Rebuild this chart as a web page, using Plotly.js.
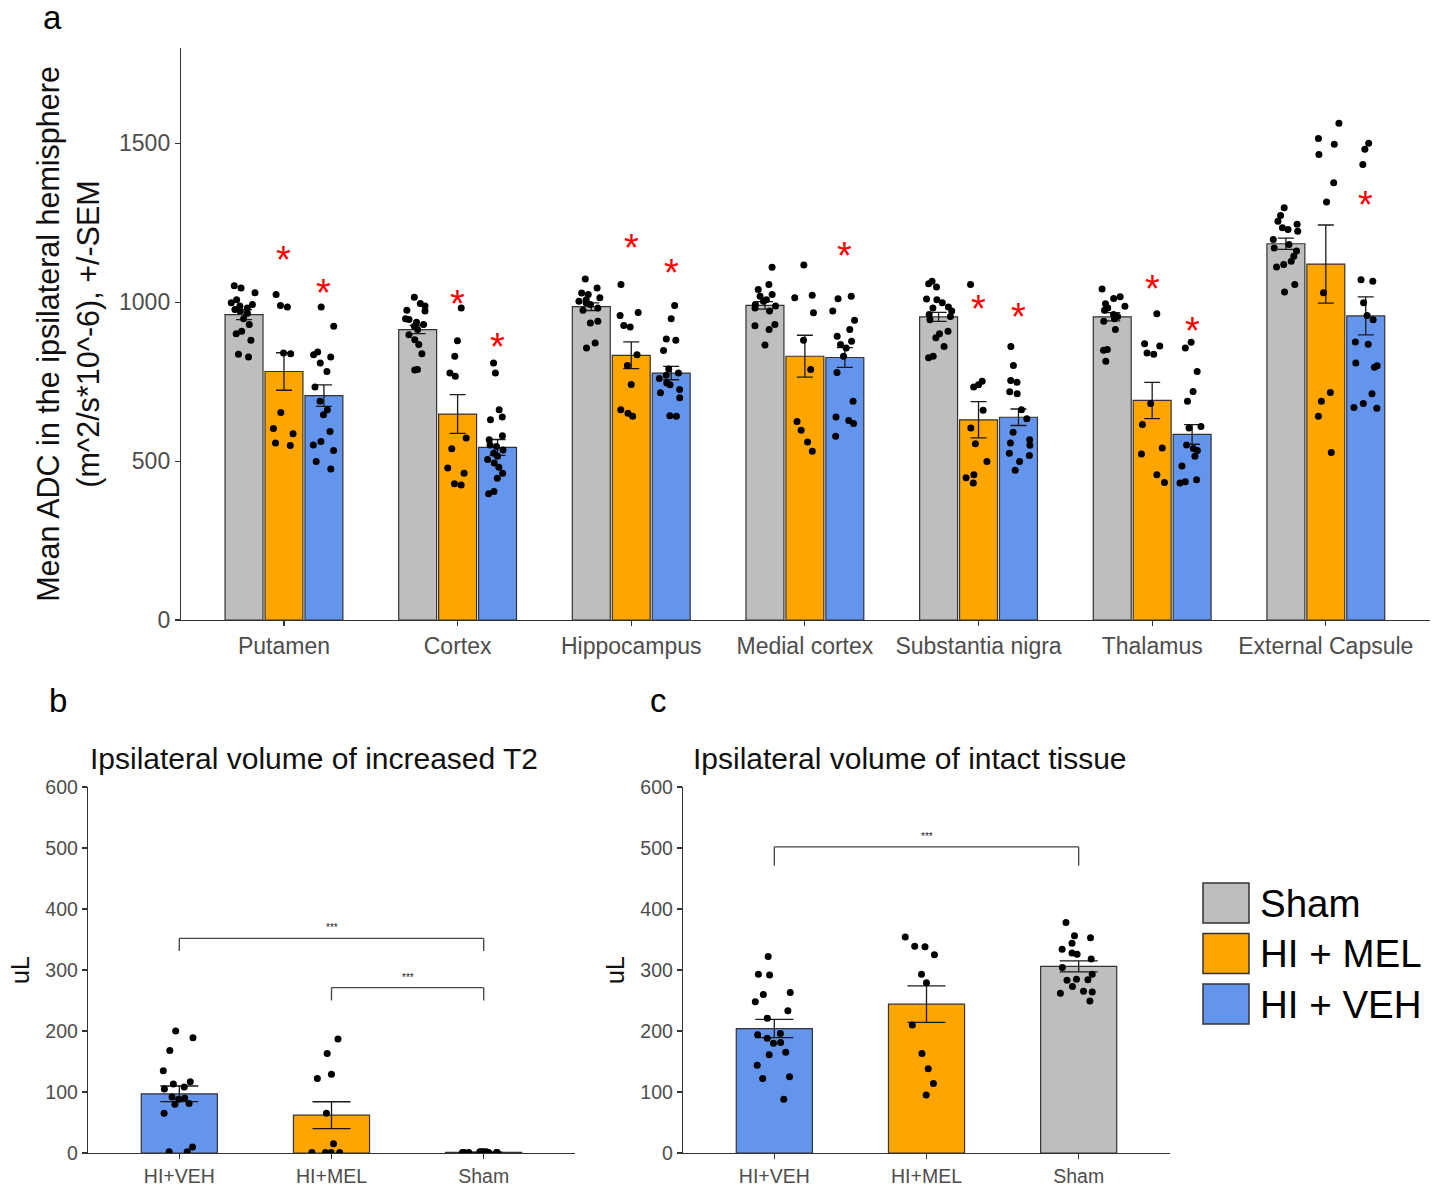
<!DOCTYPE html>
<html>
<head>
<meta charset="utf-8">
<script src="https://cdn.plot.ly/plotly-3.0.1.min.js"></script>
<style>html,body{margin:0;padding:0;background:#fff;}#chart{width:1437px;height:1186px;}</style>
</head>
<body>
<div id="chart"></div>
<script>
// ---------------- Panel a data ----------------
const regions = ['Putamen','Cortex','Hippocampus','Medial cortex','Substantia nigra','Thalamus','External Capsule'];
const shamMean = [961, 914, 986, 990, 954, 954, 1184];
const shamSem  = [16, 13, 12, 12, 14, 13, 18];
const melMean  = [782, 648, 833, 830, 630, 691, 1120];
const melSem   = [59, 61, 42, 66, 57, 57, 123];
const vehMean  = [706, 543, 777, 826, 638, 584, 957];
const vehSem   = [34, 25, 21, 31, 26, 31, 60];

const shamDots = [
  [1052,1045,1030,1008,998,993,988,982,977,972,965,948,930,909,901,880,836,828],
  [1016,996,988,975,972,948,946,937,930,924,914,898,882,867,838,788,787],
  [1073,1045,1029,1024,1014,1008,1003,998,993,982,975,940,935,872,856],
  [1110,1056,1040,1024,1019,1008,1003,993,988,982,972,930,926,914,865],
  [1066,1058,1048,1010,1008,998,985,982,972,961,955,945,909,901,888,861,830,825],
  [1042,1017,1012,995,987,982,975,961,955,948,940,914,851,849,814],
  [1297,1273,1255,1245,1234,1229,1223,1197,1182,1171,1161,1145,1129,1119,1111,1056,1032]
];
const melDots = [
  [1024,990,985,840,838,653,603,586,557,549],
  [982,879,830,777,767,573,539,478,462,429,425],
  [1056,968,958,927,922,835,801,741,662,651,641],
  [1117,1022,1014,967,880,788,625,597,560,531],
  [1056,751,740,733,660,604,555,499,457,448,431],
  [964,869,862,840,836,681,615,541,522,457,433],
  [1563,1515,1497,1465,1376,1315,1030,716,688,641,527]
];
const vehDots = [
  [985,924,843,835,828,809,782,733,688,662,646,593,562,551,533,499,475],
  [809,777,662,639,630,580,567,551,546,535,525,515,505,494,481,462,446,404,397],
  [990,948,884,880,848,790,777,770,760,746,740,725,715,699,643,641],
  [1019,1011,972,943,914,893,877,867,856,830,779,688,639,628,618,578],
  [861,801,754,748,718,712,662,633,591,567,557,550,525,518,499,471],
  [874,856,782,719,688,609,604,551,540,533,515,485,441,435,431],
  [1500,1481,1433,1071,1066,998,958,945,875,868,809,800,795,712,681,669,666]
];
// heights of red significance asterisks (null = none)
const starMel = [1161, 1024, 1198, null, 1006, 1071, null];
const starVeh = [1058, 888, 1119, 1174, 982, 938, 1334];

// ---------------- Panel b data ----------------
const groupsBC = ['HI+VEH','HI+MEL','Sham'];
const t2Mean = [97, 62, 1];
const t2Sem  = [12.8, 22, 0.4];
const t2Dots = [
  [200,189,168,135,117,113,108,105,92,90,88,81,80,65,10,2,2],
  [187,163,129,122,65,15,1,1,1,1],
  [2,1,1,2,1,1,1,2,1,1,1,1,2,1,1,1]
];
const t2Brackets = [
  {from:'HI+VEH', to:'Sham', y:352, drop:21, label:'***'},
  {from:'HI+MEL', to:'Sham', y:271, drop:21, label:'***'}
];

// ---------------- Panel c data ----------------
const intactMean = [204, 244, 306];
const intactSem  = [15, 30, 9];
const intactDots = [
  [322,293,292,263,260,248,233,221,196,194,188,181,180,165,161,144,125,122,88],
  [354,339,338,325,293,279,210,163,138,114,95],
  [378,356,353,344,334,328,326,318,304,293,285,284,283,273,265,264,262,249]
];
const intactBrackets = [
  {from:'HI+VEH', to:'Sham', y:502, drop:31, label:'***'}
];

// ---------------- Legend ----------------
const legendLabels = ['Sham','HI + MEL','HI + VEH'];

// ---------------- Styles ----------------
const C_GRAY = '#BEBEBE', C_ORANGE = '#FFA500', C_BLUE = '#6495ED';
const groupColorsA = [C_GRAY, C_ORANGE, C_BLUE];
const colorsBC = [C_BLUE, C_ORANGE, C_GRAY];
const legendColors = [C_GRAY, C_ORANGE, C_BLUE];
const FONT = 'Liberation Sans, Arial, sans-serif';
const TICKC = '#4d4d4d';
const LINEC = '#333333';
const BARGAP = 0.31, BARGROUPGAP = 0.05;

function flatten(dots, cats){
  const x=[], y=[];
  dots.forEach((arr,i)=>arr.forEach(v=>{x.push(cats[i]); y.push(v);}));
  return {x, y};
}
function barTrace(x, y, sem, color, xa, ya, capw, width){
  const t = {type:'bar', x:x, y:y, xaxis:xa, yaxis:ya,
    marker:{color:color, line:{color:LINEC, width:1.2}},
    error_y:{type:'data', array:sem, visible:true, color:'#1a1a1a', thickness:1.3, width:capw},
    hoverinfo:'skip', showlegend:false};
  if (width) t.width = width;
  return t;
}
// grouped jittered dots for panel a (box traces, box itself hidden)
function boxDots(dots, cats, xa, ya, jitter){
  const f = flatten(dots, cats);
  return {type:'box', x:f.x, y:f.y, xaxis:xa, yaxis:ya,
    boxpoints:'all', jitter:jitter, pointpos:0,
    fillcolor:'rgba(0,0,0,0)', line:{color:'rgba(0,0,0,0)', width:0}, whiskerwidth:0,
    marker:{color:'#000', size:7, line:{width:0}},
    hoverinfo:'skip', showlegend:false};
}
// single-group jittered dots for panels b/c (violin traces, shape hidden)
function violinDots(dots, cats, xa, ya, jitter, width){
  const f = flatten(dots, cats);
  return {type:'violin', x:f.x, y:f.y, xaxis:xa, yaxis:ya,
    points:'all', jitter:jitter, pointpos:0, width:width,
    fillcolor:'rgba(0,0,0,0)', line:{color:'rgba(0,0,0,0)', width:0},
    box:{visible:false}, meanline:{visible:false},
    marker:{color:'#000', size:7, line:{width:0}},
    hoverinfo:'skip', showlegend:false};
}

const traces = [];
[[shamMean,shamSem],[melMean,melSem],[vehMean,vehSem]].forEach((ms,i)=>{
  traces.push(barTrace(regions, ms[0], ms[1], groupColorsA[i], 'x', 'y', 8));
});
[shamDots, melDots, vehDots].forEach(d=>traces.push(boxDots(d, regions, 'x', 'y', 0.7)));
traces.push(barTrace(groupsBC, t2Mean, t2Sem, colorsBC, 'x2', 'y2', 19, 0.5));
traces.push(violinDots(t2Dots, groupsBC, 'x2', 'y2', 0.6, 0.5));
traces.push(barTrace(groupsBC, intactMean, intactSem, colorsBC, 'x3', 'y3', 19, 0.5));
traces.push(violinDots(intactDots, groupsBC, 'x3', 'y3', 0.6, 0.5));

const annotations = [];
const slot = (1 - BARGAP) / 3;
const offsets = [-slot, 0, slot];
[[starMel,1],[starVeh,2]].forEach(([arr,g])=>{
  arr.forEach((v,i)=>{
    if (v === null) return;
    annotations.push({x:i + offsets[g], y:v, xref:'x', yref:'y', text:'*', showarrow:false,
      font:{family:FONT, size:38, color:'#FF0000'}, yanchor:'middle', yshift:-9});
  });
});
const shapes = [];
function addBrackets(list, xa, ya){
  list.forEach(b=>{
    const i0 = groupsBC.indexOf(b.from), i1 = groupsBC.indexOf(b.to);
    const ln = {color:'#444', width:1.3};
    shapes.push({type:'line', xref:xa, yref:ya, x0:i0, x1:i1, y0:b.y, y1:b.y, line:ln});
    shapes.push({type:'line', xref:xa, yref:ya, x0:i0, x1:i0, y0:b.y, y1:b.y-b.drop, line:ln});
    shapes.push({type:'line', xref:xa, yref:ya, x0:i1, x1:i1, y0:b.y, y1:b.y-b.drop, line:ln});
    annotations.push({x:(i0+i1)/2, y:b.y, xref:xa, yref:ya, text:b.label, showarrow:false,
      yanchor:'bottom', yshift:3, font:{family:FONT, size:10, color:'#222'}});
  });
}
addBrackets(t2Brackets, 'x2', 'y2');
addBrackets(intactBrackets, 'x3', 'y3');

const W = 1437, H = 1186;
const px = v => v / W, py = v => 1 - v / H;
[['a',52,18],['b',58,700],['c',658,700]].forEach(([t,x,y])=>{
  annotations.push({x:px(x), y:py(y), xref:'paper', yref:'paper', text:t, showarrow:false,
    xanchor:'center', yanchor:'middle', font:{family:FONT, size:33, color:'#000'}});
});
[['Ipsilateral volume of increased T2',88],['Ipsilateral volume of intact tissue',691]].forEach(([t,x])=>{
  annotations.push({x:px(x), y:py(758), xref:'paper', yref:'paper', text:t, showarrow:false,
    xanchor:'left', yanchor:'middle', font:{family:FONT, size:30, color:'#111'}});
});
legendLabels.forEach((lab,i)=>{
  const top = 883 + i*50.5;
  shapes.push({type:'rect', xref:'paper', yref:'paper', x0:px(1203), x1:px(1249), y0:py(top+40), y1:py(top),
    fillcolor:legendColors[i], line:{color:LINEC, width:1.5}});
  annotations.push({x:px(1258), y:py(top+20), xref:'paper', yref:'paper', text:lab, showarrow:false,
    xanchor:'left', yanchor:'middle', font:{family:FONT, size:38.5, color:'#000'}});
});

const axBase = {showline:true, linecolor:LINEC, linewidth:1.2, ticks:'outside', ticklen:5,
  tickcolor:LINEC, tickwidth:1.2, showgrid:false, zeroline:false, fixedrange:true};

const layout = {
  width:W, height:H, margin:{l:0,r:0,t:0,b:0}, paper_bgcolor:'#fff', plot_bgcolor:'#fff',
  font:{family:FONT}, showlegend:false,
  barmode:'group', bargap:BARGAP, bargroupgap:BARGROUPGAP,
  boxmode:'group', boxgap:BARGAP, boxgroupgap:BARGROUPGAP,
  violinmode:'overlay',
  xaxis:Object.assign({}, axBase, {domain:[px(181), px(1430)], anchor:'y', type:'category',
    range:[-0.593, 6.6], tickfont:{size:23, color:TICKC}}),
  yaxis:Object.assign({}, axBase, {domain:[py(620), py(48)], anchor:'x', range:[0,1800],
    tickvals:[0,500,1000,1500], tickfont:{size:23, color:TICKC},
    title:{text:'Mean ADC in the ipsilateral hemisphere<br>(m^2/s*10^-6), +/-SEM', standoff:10,
      font:{size:30.5, color:'#111'}}}),
  xaxis2:Object.assign({}, axBase, {domain:[px(88), px(575)], anchor:'y2', type:'category',
    range:[-0.6, 2.6], tickfont:{size:19.5, color:TICKC}}),
  yaxis2:Object.assign({}, axBase, {domain:[py(1153), py(787)], anchor:'x2', range:[0,600], dtick:100,
    tickfont:{size:19.5, color:TICKC}, title:{text:'uL', standoff:8, font:{size:25, color:'#111'}}}),
  xaxis3:Object.assign({}, axBase, {domain:[px(683), px(1170)], anchor:'y3', type:'category',
    range:[-0.6, 2.6], tickfont:{size:19.5, color:TICKC}}),
  yaxis3:Object.assign({}, axBase, {domain:[py(1153), py(787)], anchor:'x3', range:[0,600], dtick:100,
    tickfont:{size:19.5, color:TICKC}, title:{text:'uL', standoff:8, font:{size:25, color:'#111'}}}),
  annotations:annotations, shapes:shapes
};

Plotly.newPlot('chart', traces, layout, {displayModeBar:false, staticPlot:true});
</script>
</body>
</html>
